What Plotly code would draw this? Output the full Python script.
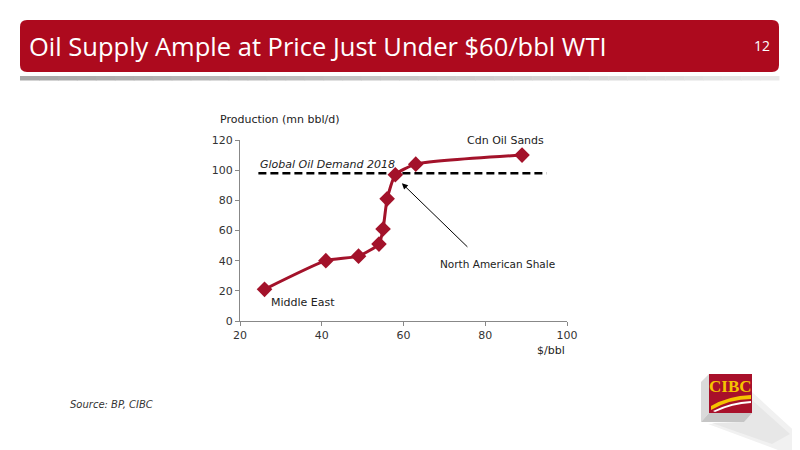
import plotly.graph_objects as go

# supply curve
price = [26, 41, 49, 54, 55, 56, 58, 63, 89]
production = [21, 40, 43, 51, 61, 81, 97, 104, 110]

# 2018 demand line
demand_x = [24.5, 95]
demand_y = [98, 98]

x_ticks = [20, 40, 60, 80, 100]
y_ticks = [0, 20, 40, 60, 80, 100, 120]

W, H = 800, 450
OFF = 8  # page body margin: the figure is drawn 8px in from the corner
RED = '#AD0A1E'
CURVE = '#A3122A'
TITLE_FONT = 'Open Sans, sans-serif'
FONT = 'DejaVu Sans, sans-serif'


def px(x, y):
    # screen pixel -> paper coords
    return (x - OFF) / W, 1 - (y - OFF) / H


def path(points, close=True):
    s = ''
    for i, (x, y) in enumerate(points):
        a, b = px(x, y)
        s += ('M' if i == 0 else 'L') + f'{a:.5f},{b:.5f} '
    return s + ('Z' if close else '')


def pt(x, y):
    return '%.5f,%.5f' % px(x, y)


def rounded_rect(x0, y0, x1, y1, r):
    return (f'M{pt(x0 + r, y0)} L{pt(x1 - r, y0)} Q{pt(x1, y0)} {pt(x1, y0 + r)} '
            f'L{pt(x1, y1 - r)} Q{pt(x1, y1)} {pt(x1 - r, y1)} L{pt(x0 + r, y1)} '
            f'Q{pt(x0, y1)} {pt(x0, y1 - r)} L{pt(x0, y0 + r)} Q{pt(x0, y0)} {pt(x0 + r, y0)} Z')


def poly(points, color):
    return dict(type='path', xref='paper', yref='paper', path=path(points),
                fillcolor=color, line=dict(width=0))


fig = go.Figure()

fig.add_trace(go.Scatter(
    x=demand_x, y=demand_y, mode='lines',
    line=dict(color='black', width=2.5, dash='8px,4px'),
    hoverinfo='skip', showlegend=False,
))

fig.add_trace(go.Scatter(
    x=price, y=production, mode='lines+markers',
    line=dict(color=CURVE, width=3, shape='spline', smoothing=0.5),
    marker=dict(symbol='diamond', size=12, color=CURVE),
    showlegend=False,
))

shapes = []
# header bar
shapes.append(dict(type='path', xref='paper', yref='paper',
                   path=rounded_rect(20, 20, 779, 72, 7),
                   fillcolor=RED, line=dict(width=0), layer='above'))
# grey gradient strip under header
n = 40
for i in range(n):
    g = int(168 + (232 - 168) * i / (n - 1))
    xa = 20 + (779 - 20) * i / n
    xb = 20 + (779 - 20) * (i + 1) / n + 0.5
    x0, y0 = px(xa, 76)
    x1, y1 = px(xb, 80.5)
    shapes.append(dict(type='rect', xref='paper', yref='paper',
                       x0=x0, x1=x1, y0=y1, y1=y0,
                       fillcolor=f'rgb({g},{g},{g})', line=dict(width=0)))

# CIBC logo: long soft shadow, cube sides, red face, swooshes
shapes.append(poly([(752, 392), (800, 436), (800, 450), (778, 450), (708, 424), (744, 422)], '#f1f1f1'))
shapes.append(poly([(752, 400), (790, 434), (772, 444), (712, 423), (744, 422)], '#e7e7e7'))
shapes.append(poly([(709, 374), (701, 382), (701, 422), (709, 413)], '#dadada'))
shapes.append(poly([(709, 413), (752, 413), (744, 422), (701, 422)], '#c6c6c6'))
shapes.append(dict(type='rect', xref='paper', yref='paper',
                   x0=px(709, 0)[0], x1=px(752, 0)[0], y0=px(0, 413)[1], y1=px(0, 374)[1],
                   fillcolor='#A8102A', line=dict(width=0)))
shapes.append(dict(type='path', xref='paper', yref='paper',
                   path=f'M{pt(711, 406)} Q{pt(728, 396)} {pt(751, 395)} L{pt(751, 399)} Q{pt(730, 399)} {pt(711, 410)} Z',
                   fillcolor='#F5C400', line=dict(width=0)))
shapes.append(dict(type='path', xref='paper', yref='paper',
                   path=f'M{pt(713, 411)} Q{pt(731, 402)} {pt(751, 401)} L{pt(751, 403)} Q{pt(732, 404)} {pt(715, 412)} Z',
                   fillcolor='white', line=dict(width=0)))

annotations = [
    dict(text='Oil Supply Ample at Price Just Under $60/bbl WTI', x=px(27, 0)[0], y=px(0, 46)[1],
         xref='paper', yref='paper', xanchor='left', yanchor='middle', showarrow=False,
         font=dict(family=TITLE_FONT, size=25.5, color='white')),
    dict(text='12', x=px(772, 0)[0], y=px(0, 46)[1], xref='paper', yref='paper',
         xanchor='right', yanchor='middle', showarrow=False,
         font=dict(family=TITLE_FONT, size=14, color='white')),
    dict(text='<b>CIBC</b>', x=px(730.5, 0)[0], y=px(0, 386)[1], xref='paper', yref='paper',
         xanchor='center', yanchor='middle', showarrow=False,
         font=dict(family='Liberation Serif, serif', size=17, color='#F5C400')),
    dict(text='<i>Source: BP, CIBC</i>', x=px(68, 0)[0], y=px(0, 404)[1], xref='paper', yref='paper',
         xanchor='left', yanchor='middle', showarrow=False,
         font=dict(family=FONT, size=10, color='#333333')),
    dict(text='Production (mn bbl/d)', x=px(218, 0)[0], y=px(0, 119)[1], xref='paper', yref='paper',
         xanchor='left', yanchor='middle', showarrow=False,
         font=dict(family=FONT, size=11, color='#222222')),
    dict(text='$/bbl', x=px(567, 0)[0], y=px(0, 350)[1], xref='paper', yref='paper',
         xanchor='right', yanchor='middle', showarrow=False,
         font=dict(family=FONT, size=11, color='#222222')),
    dict(text='<i>Global Oil Demand 2018</i>', x=24.3, y=104, xanchor='left', yanchor='middle',
         showarrow=False, font=dict(family=FONT, size=11, color='#222222')),
    dict(text='Cdn Oil Sands', x=84.9, y=120, showarrow=False,
         font=dict(family=FONT, size=11, color='#222222')),
    dict(text='North American Shale', x=82.9, y=37.8, showarrow=False,
         font=dict(family=FONT, size=10.5, color='#222222')),
    dict(text='Middle East', x=35.4, y=12.4, showarrow=False,
         font=dict(family=FONT, size=11, color='#222222')),
    dict(text='', x=59.6, y=91.3, ax=76, ay=48.2, axref='x', ayref='y',
         showarrow=True, arrowhead=2, arrowsize=1.2, arrowwidth=1, arrowcolor='black'),
]

x_dom = [px(240, 0)[0], px(567, 0)[0]]
y_dom = [px(0, 321)[1], px(0, 140)[1]]

fig.update_layout(
    width=W, height=H,
    margin=dict(l=0, r=0, t=0, b=0, autoexpand=False),
    paper_bgcolor='white', plot_bgcolor='white',
    font=dict(family=FONT, size=11, color='#333333'),
    shapes=shapes, annotations=annotations,
    xaxis=dict(domain=x_dom, range=[20, 100], tickvals=x_ticks, automargin=False,
               showgrid=False, zeroline=False, showline=True, linecolor='#888888', linewidth=1,
               ticks='outside', ticklen=4, tickcolor='#888888', tickfont=dict(size=11)),
    yaxis=dict(domain=y_dom, range=[0, 120], tickvals=y_ticks, automargin=False,
               showgrid=False, zeroline=False, showline=True, linecolor='#888888', linewidth=1,
               ticks='outside', ticklen=4, tickcolor='#888888', tickfont=dict(size=11)),
)

fig.write_html('out.html')
